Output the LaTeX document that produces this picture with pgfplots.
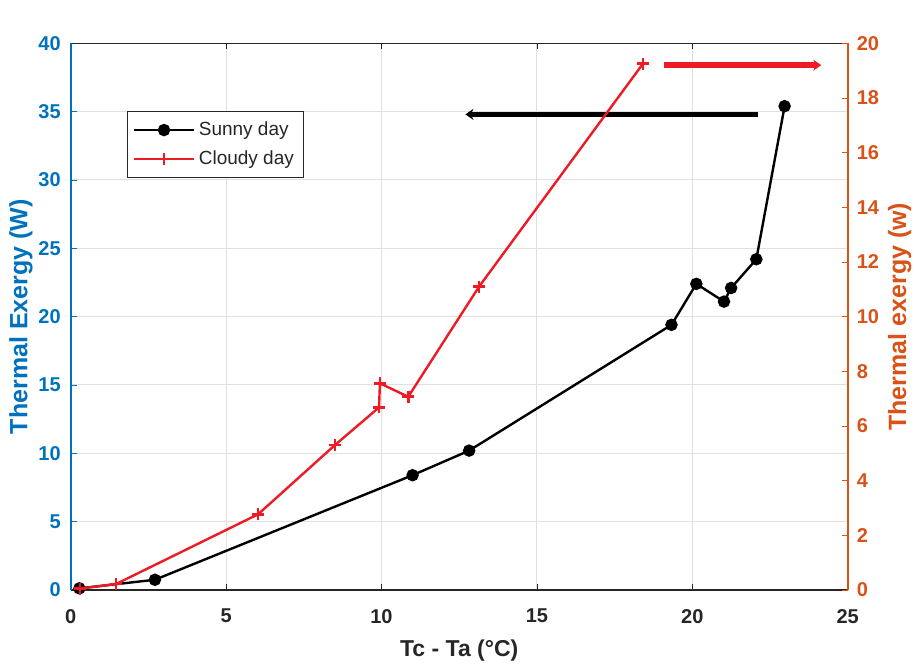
\documentclass[border=0pt]{standalone}
\usepackage{pgfplots}
\pgfplotsset{compat=1.18}
\usepackage{fontspec}
\setmainfont{Liberation Sans}
\usetikzlibrary{arrows.meta}
\definecolor{mblue}{RGB}{0,114,189}
\definecolor{morange}{RGB}{217,83,25}
\definecolor{mgray}{RGB}{38,38,38}
\definecolor{mred}{RGB}{237,28,36}
\begin{document}
\begin{tikzpicture}
\useasboundingbox (-35.35pt,-37pt) rectangle (422.15pt,295pt);
\begin{axis}[
  scale only axis, width=388.5pt, height=273.35pt,
  xmin=0, xmax=25, ymin=0, ymax=40,
  xtick={0,5,...,25}, ytick={0,5,...,40},
  axis x line*=box, axis y line*=left, ytick pos=left,
  tick align=inside, major tick length=3pt,
  x axis line style={draw=mgray, line width=0.8pt, -},
  y axis line style={draw=mblue, line width=0.8pt, -},
  xtick style={draw=mgray}, ytick style={draw=mblue},
  grid=major, major grid style={draw=black!12, line width=0.5pt},
  tick label style={font=\bfseries\fontsize{10}{12}\selectfont},
  xticklabel style={text=mgray, yshift=-6pt},
  yticklabel style={text=mblue, xshift=-1.5pt},
  /pgf/number format/assume math mode=true,
  xlabel={Tc - Ta (°C)},
  xlabel style={at={(axis description cs:0.5,-0.11)}, anchor=center, text=mgray, font=\bfseries\fontsize{11.5}{13}\selectfont},
  ylabel={Thermal Exergy (W)},
  ylabel style={at={(axis description cs:-0.064,0.5)}, anchor=center, text=mblue, font=\bfseries\fontsize{12.5}{14}\selectfont},
  clip=false,
]
\addplot[black, line width=1.2pt, mark=*, mark size=2.5pt] coordinates {
  (0.28,0.12) (2.71,0.75) (11.0,8.4) (12.82,10.2) (19.33,19.4)
  (20.13,22.4) (21.02,21.1) (21.25,22.1) (22.06,24.2) (22.97,35.4)
};
\addplot[black, line width=2.8pt, -{Stealth[length=4pt,width=5.5pt]}] coordinates {(22.1,34.8) (12.7,34.8)};
\end{axis}
\begin{axis}[
  scale only axis, width=388.5pt, height=273.35pt,
  xmin=0, xmax=25, ymin=0, ymax=20,
  ytick={0,2,...,20},
  axis x line=none, axis y line*=right, ytick pos=right,
  tick align=inside, major tick length=3pt,
  y axis line style={draw=morange, line width=0.8pt, -},
  ytick style={draw=morange},
  yticklabel style={text=morange, font=\bfseries\fontsize{10}{12}\selectfont, xshift=1pt},
  /pgf/number format/assume math mode=true,
  ylabel={Thermal exergy (w)},
  ylabel style={at={(axis description cs:1.067,0.5)}, anchor=center, rotate=0, text=morange, font=\bfseries\fontsize{12.5}{14}\selectfont},
  clip=false,
  legend style={at={(0.072,0.876)}, anchor=north west, draw=mgray, line width=0.6pt, fill=white,
    font=\fontsize{9.5}{11}\selectfont, text=mgray, row sep=2pt, inner xsep=3pt, inner ysep=3pt},
  legend cell align=left,
  legend image code/.code={\draw[mark repeat=2,mark phase=2,#1] plot coordinates {(0cm,0cm) (0.52cm,0cm) (1.04cm,0cm)};},
]
\addlegendimage{black, line width=1.2pt, mark=*, mark size=2.5pt}
\addlegendentry{Sunny day}
\addplot[mred, line width=1.2pt, mark=+, mark size=3pt, mark options={line width=1.3pt}] coordinates {
  (0.3,0.05) (1.46,0.22) (6.03,2.77) (8.5,5.3) (9.92,6.68) (9.95,7.56)
  (10.86,7.07) (13.14,11.1) (18.41,19.25)
};
\addlegendentry{Cloudy day}
\addplot[mred, line width=2.8pt, -{Stealth[length=4pt,width=5.5pt]}, forget plot] coordinates {(19.1,19.2) (24.15,19.2)};
\end{axis}
\end{tikzpicture}
\end{document}
